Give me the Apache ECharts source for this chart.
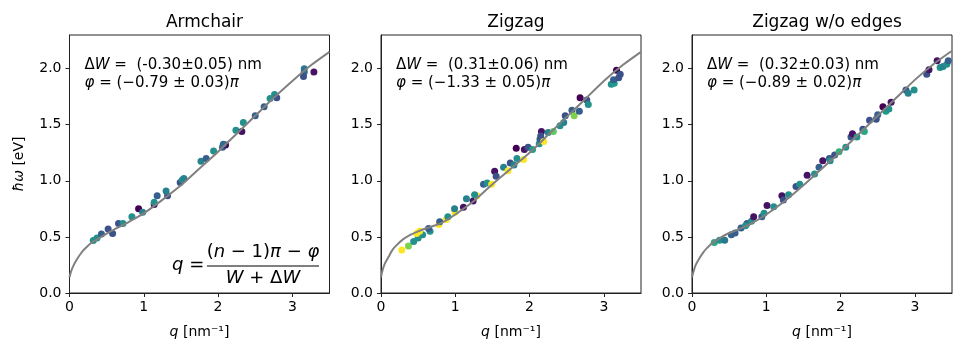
<!DOCTYPE html>
<html>
<head>
<meta charset="utf-8">
<script src="https://cdn.jsdelivr.net/npm/echarts@6/dist/echarts.min.js"></script>
<style>
  html, body { margin: 0; padding: 0; background: #fff; }
  #chart { width: 969px; height: 356px; }
</style>
</head>
<body>
<div id="chart"></div>
<script>
  // panel titles and fit results
  var titles = ['Armchair', 'Zigzag', 'Zigzag w/o edges'];
  var dWText = ['(-0.30±0.05)', '(0.31±0.06)', '(0.32±0.03)'];
  var phiText = ['(−0.79 ± 0.03)', '(−1.33 ± 0.05)', '(−0.89 ± 0.02)'];

  // measured points: q [nm^-1], energy [eV], colour value (viridis 0..1)
  var armQ = [0.32, 0.37, 0.43, 0.52, 0.58, 0.66, 0.72, 0.84, 0.93, 0.985, 1.14, 1.14, 1.18, 1.32, 1.30, 1.49, 1.52, 1.54, 1.77, 1.84, 1.94, 2.06, 2.10, 2.07, 2.24, 2.32, 2.34, 2.50, 2.62, 2.70, 2.76, 2.79, 3.16, 3.16, 3.15, 3.29];
  var armE = [0.467, 0.49, 0.527, 0.57, 0.53, 0.62, 0.62, 0.68, 0.75, 0.72, 0.79, 0.81, 0.866, 0.866, 0.91, 0.985, 1.01, 1.02, 1.175, 1.20, 1.265, 1.30, 1.32, 1.325, 1.45, 1.44, 1.52, 1.58, 1.66, 1.735, 1.77, 1.74, 2.00, 1.97, 1.93, 1.97];
  var armC = [0.5, 0.5, 0.3, 0.25, 0.25, 0.25, 0.5, 0.5, 0.0, 0.45, 0.05, 0.5, 0.3, 0.25, 0.45, 0.25, 0.5, 0.45, 0.45, 0.3, 0.5, 0.3, 0.0, 0.35, 0.5, 0.05, 0.5, 0.3, 0.3, 0.5, 0.5, 0.25, 0.4, 0.35, 0.25, 0.05];

  var zigQ = [0.28, 0.37, 0.44, 0.50, 0.56, 0.48, 0.52, 0.66, 0.64, 0.78, 0.79, 0.88, 0.90, 0.995, 0.99, 1.11, 1.15, 1.24, 1.29, 1.26, 1.38, 1.43, 1.49, 1.53, 1.55, 1.65, 1.71, 1.74, 1.79, 1.83, 1.82, 1.92, 1.93, 1.98, 2.04, 2.13, 2.14, 2.16, 2.15, 2.19, 2.25, 2.32, 2.41, 2.46, 2.48, 2.57, 2.60, 2.67, 2.68, 2.77, 2.79, 3.10, 3.14, 3.13, 3.17, 3.22, 3.20];
  var zigE = [0.384, 0.42, 0.46, 0.49, 0.52, 0.53, 0.55, 0.55, 0.575, 0.61, 0.635, 0.655, 0.68, 0.72, 0.75, 0.765, 0.84, 0.82, 0.866, 0.875, 0.97, 0.98, 0.97, 1.085, 1.04, 1.12, 1.09, 1.16, 1.14, 1.2, 1.29, 1.19, 1.28, 1.30, 1.28, 1.33, 1.37, 1.44, 1.40, 1.35, 1.43, 1.44, 1.49, 1.52, 1.58, 1.63, 1.58, 1.62, 1.74, 1.72, 1.68, 1.86, 1.87, 1.90, 1.985, 1.95, 1.92];
  var zigC = [1, 0.8, 0.5, 0.5, 0.5, 1, 1, 0.5, 0.3, 1, 0.3, 1, 0.5, 1, 0.45, 0.05, 0.45, 0.05, 1, 0.5, 0.3, 0.5, 1, 0.05, 0.25, 0.45, 1, 0.25, 0.45, 0.5, 0.0, 1, 0.05, 0.25, 0.55, 0.5, 0.3, 0.05, 0.25, 1, 0.45, 0.75, 0.5, 0.45, 0.25, 0.3, 0.8, 0.3, 0.0, 0.25, 0.5, 0.5, 0.55, 0.3, 0.0, 0.25, 0.25];

  var noEdgeQ = [0.30, 0.37, 0.44, 0.53, 0.58, 0.66, 0.74, 0.72, 0.80, 0.83, 0.94, 0.97, 1.01, 1.10, 1.21, 1.23, 1.30, 1.40, 1.45, 1.55, 1.65, 1.71, 1.76, 1.85, 1.86, 1.92, 1.98, 2.07, 2.14, 2.16, 2.22, 2.30, 2.32, 2.39, 2.48, 2.50, 2.57, 2.61, 2.68, 2.65, 2.88, 2.91, 2.99, 3.16, 3.19, 3.30, 3.34, 3.38, 3.43, 3.45];
  var noEdgeE = [0.45, 0.47, 0.47, 0.52, 0.535, 0.58, 0.62, 0.60, 0.64, 0.68, 0.68, 0.71, 0.78, 0.77, 0.866, 0.83, 0.875, 0.95, 0.97, 1.05, 1.06, 1.12, 1.18, 1.20, 1.18, 1.23, 1.26, 1.30, 1.39, 1.42, 1.39, 1.46, 1.44, 1.54, 1.55, 1.59, 1.66, 1.62, 1.70, 1.64, 1.81, 1.78, 1.81, 1.95, 1.99, 2.07, 2.01, 2.02, 2.04, 2.07];
  var noEdgeC = [0.6, 0.5, 0.4, 0.3, 0.3, 0.3, 0.3, 0.5, 0.5, 0.05, 0.3, 0.5, 0.05, 0.5, 0.05, 0.25, 0.5, 0.25, 0.5, 0.05, 0.5, 0.3, 0.05, 0.25, 0.5, 0.25, 0.65, 0.5, 0.25, 0.05, 0.5, 0.25, 0.6, 0.25, 0.25, 0.3, 0.0, 0.55, 0.05, 0.5, 0.25, 0.45, 0.5, 0.25, 0.05, 0.05, 0.5, 0.45, 0.5, 0.3];

  // fitted dispersion curves
  var curveQ = [0, 0.02, 0.05, 0.1, 0.15, 0.2, 0.3, 0.4, 0.5, 0.6, 0.8, 1.0, 1.25, 1.5, 1.75, 2.0, 2.25, 2.5, 2.75, 3.0, 3.25, 3.5];
  var armCurve = [0.14, 0.19, 0.24, 0.30, 0.35, 0.39, 0.45, 0.49, 0.53, 0.565, 0.635, 0.71, 0.83, 0.96, 1.11, 1.26, 1.42, 1.58, 1.74, 1.89, 2.03, 2.15];
  var zigCurve = [0.14, 0.20, 0.26, 0.32, 0.38, 0.42, 0.48, 0.52, 0.55, 0.575, 0.62, 0.70, 0.82, 0.97, 1.11, 1.25, 1.41, 1.57, 1.73, 1.89, 2.03, 2.15];
  var noEdgeCurve = [0.14, 0.19, 0.25, 0.31, 0.36, 0.40, 0.46, 0.50, 0.535, 0.56, 0.62, 0.70, 0.82, 0.96, 1.11, 1.26, 1.42, 1.58, 1.74, 1.90, 2.04, 2.16];

  var xTicks = [0, 1, 2, 3];
  var yTicks = [0, 0.5, 1.0, 1.5, 2.0];

  var pointSets = [[armQ, armE, armC], [zigQ, zigE, zigC], [noEdgeQ, noEdgeE, noEdgeC]];
  var curves = [armCurve, zigCurve, noEdgeCurve];
  var viridis = ['#440154', '#482878', '#3e4989', '#31688e', '#26828e', '#1f9e89', '#35b779', '#6ece58', '#b5de2b', '#fde725'];

  var font = 'DejaVu Sans';
  var tickSize = 14;
  var lefts = [69.5, 381, 692];
  var plotW = 260, plotTop = 35, plotH = 258;

  var myChart = echarts.init(document.getElementById('chart'));

  var grids = [], xAxes = [], yAxes = [], series = [], visualMaps = [], titleList = [], graphics = [];

  lefts.forEach(function (left, i) {
    grids.push({
      left: left, top: plotTop, width: plotW, height: plotH,
      show: true, borderColor: '#222', borderWidth: 1, backgroundColor: 'transparent'
    });
    xAxes.push({
      type: 'value', gridIndex: i, min: 0, max: 3.5, interval: 1,
      name: '{i|q} [nm⁻¹]', nameLocation: 'middle', nameGap: 32,
      nameTextStyle: {
        fontFamily: font, fontSize: tickSize, color: '#000',
        rich: { i: { fontFamily: font, fontSize: tickSize, fontStyle: 'italic', color: '#000' } }
      },
      axisLine: { onZero: false, lineStyle: { color: '#222', width: 1 } },
      axisTick: { inside: false, length: 4, lineStyle: { color: '#222' } },
      axisLabel: {
        fontFamily: font, fontSize: tickSize, color: '#000', margin: 7, showMaxLabel: false,
        formatter: function (v) { return xTicks.indexOf(v) >= 0 ? String(v) : ''; }
      },
      splitLine: { show: false }
    });
    yAxes.push({
      type: 'value', gridIndex: i, min: 0, max: 2.3, interval: 0.5,
      axisLine: { onZero: false, lineStyle: { color: '#222', width: 1 } },
      axisTick: { inside: false, length: 4, lineStyle: { color: '#222' } },
      axisLabel: {
        fontFamily: font, fontSize: tickSize, color: '#000', margin: 8, showMaxLabel: false,
        formatter: function (v) { return yTicks.indexOf(v) >= 0 ? v.toFixed(1) : ''; }
      },
      splitLine: { show: false }
    });

    var p = pointSets[i];
    series.push({
      type: 'scatter', xAxisIndex: i, yAxisIndex: i, symbolSize: 7, z: 2,
      data: p[0].map(function (q, k) { return [q, p[1][k], p[2][k]]; }),
      itemStyle: { opacity: 1 }
    });
    visualMaps.push({
      type: 'continuous', show: false, seriesIndex: i, dimension: 2,
      min: 0, max: 1, inRange: { color: viridis }
    });

    titleList.push({
      text: titles[i], left: left + plotW / 2, top: 9, textAlign: 'center',
      textStyle: { fontFamily: font, fontSize: 17, fontWeight: 'normal', color: '#000' }
    });

    graphics.push({
      type: 'text', x: left + 15, y: 56, z: 10,
      style: {
        text: '{n|Δ}{i|W}{n| =  ' + dWText[i] + ' nm}\n{i|φ}{n| = ' + phiText[i] + '}{i|π}',
        rich: {
          n: { fontFamily: font, fontSize: 15, fill: '#000', lineHeight: 18 },
          i: { fontFamily: font, fontSize: 15, fontStyle: 'italic', fill: '#000', lineHeight: 18 }
        }
      }
    });
  });

  // fitted curves drawn above the points
  curves.forEach(function (c, i) {
    series.push({
      type: 'line', xAxisIndex: i, yAxisIndex: i, showSymbol: false, z: 3,
      smooth: 0.25, clip: true,
      lineStyle: { color: '#808080', width: 2 },
      data: curveQ.map(function (q, k) { return [q, c[k]]; })
    });
  });

  // y-axis label of the first panel
  graphics.push({
    type: 'text', x: 19, y: 164, rotation: Math.PI / 2,
    style: {
      text: '{i|ħω} [eV]', align: 'center', verticalAlign: 'middle',
      rich: {
        i: { fontFamily: font, fontSize: tickSize, fontStyle: 'italic', fill: '#000' }
      },
      fontFamily: font, fontSize: tickSize, fill: '#000'
    }
  });

  // q formula in the first panel
  graphics.push({
    type: 'text', x: 172, y: 265, z: 10,
    style: {
      text: '{i|q} =', verticalAlign: 'middle', fontFamily: font, fontSize: 18, fill: '#000',
      rich: { i: { fontFamily: font, fontSize: 18, fontStyle: 'italic', fill: '#000' } }
    }
  });
  graphics.push({
    type: 'text', x: 263, y: 252, z: 10,
    style: {
      text: '({i|n} − 1){i|π} − {i|φ}', align: 'center', verticalAlign: 'middle',
      fontFamily: font, fontSize: 18, fill: '#000',
      rich: { i: { fontFamily: font, fontSize: 18, fontStyle: 'italic', fill: '#000' } }
    }
  });
  graphics.push({
    type: 'line', z: 10,
    shape: { x1: 207, y1: 266, x2: 319, y2: 266 },
    style: { stroke: '#000', lineWidth: 1.2 }
  });
  graphics.push({
    type: 'text', x: 263, y: 278, z: 10,
    style: {
      text: '{i|W} + Δ{i|W}', align: 'center', verticalAlign: 'middle',
      fontFamily: font, fontSize: 18, fill: '#000',
      rich: { i: { fontFamily: font, fontSize: 18, fontStyle: 'italic', fill: '#000' } }
    }
  });

  myChart.setOption({
    animation: false,
    backgroundColor: '#fff',
    title: titleList,
    grid: grids,
    xAxis: xAxes,
    yAxis: yAxes,
    visualMap: visualMaps,
    series: series,
    graphic: graphics
  });
</script>
</body>
</html>
